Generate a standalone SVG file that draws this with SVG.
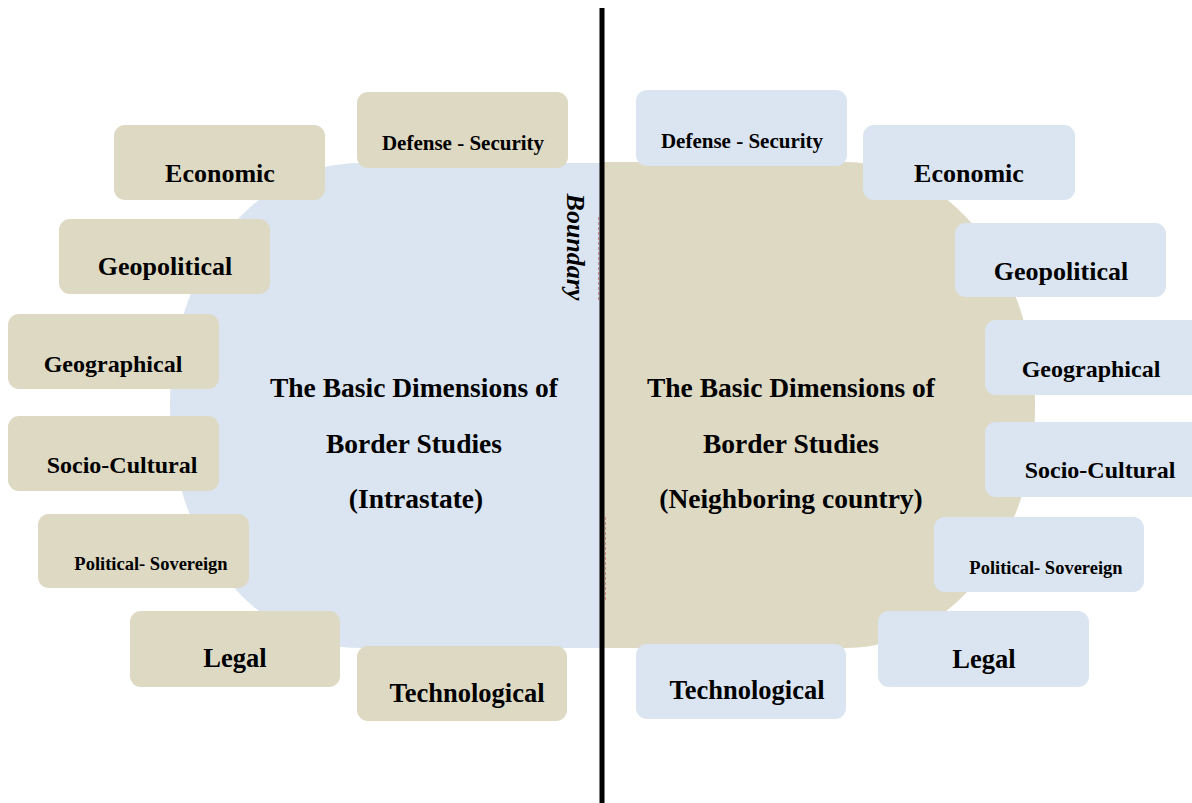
<svg xmlns="http://www.w3.org/2000/svg" width="1192" height="803" viewBox="0 0 1192 803">
<style>
.tan{fill:#DDD9C3}
.blue{fill:#DBE5F1}
text{font-family:"Liberation Serif","Times New Roman",serif;font-weight:bold;fill:#000;text-anchor:middle}
.big{font-size:26px}
.mid{font-size:24px}
.bot{font-size:26.5px}
.sm{font-size:21px}
.xs{font-size:18.5px}
.title{font-size:27.5px}
</style>
<rect x="0" y="0" width="1192" height="803" fill="#FFFFFF"/>
<g id="left-core">
<path class="blue" d="M600 163 L360 163 A190 240 0 0 0 170 403 L170 408 A190 240 0 0 0 360 648 L600 648 Z"/>
<text class="title" x="414" y="397">The Basic Dimensions of</text>
<text class="title" x="414" y="453">Border Studies</text>
<text class="title" x="416" y="508">(Intrastate)</text>
</g>
<g id="right-core">
<path class="tan" d="M602 162 L845 162 A190 240 0 0 1 1035 402 L1035 408 A190 240 0 0 1 845 648 L602 648 Z"/>
<text class="title" x="791" y="397">The Basic Dimensions of</text>
<text class="title" x="791" y="453">Border Studies</text>
<text class="title" x="791" y="508">(Neighboring country)</text>
</g>
<g id="l-defense"><rect class="tan" x="357" y="92" width="211" height="76" rx="11"/><text class="sm" x="463" y="150">Defense - Security</text></g>
<g id="l-economic"><rect class="tan" x="114" y="125" width="211" height="75" rx="11"/><text class="big" x="220" y="182">Economic</text></g>
<g id="l-geopolitical"><rect class="tan" x="59" y="219" width="211" height="75" rx="11"/><text class="big" x="165" y="275">Geopolitical</text></g>
<g id="l-geographical"><rect class="tan" x="8" y="314" width="211" height="75" rx="11"/><text class="mid" x="113" y="372">Geographical</text></g>
<g id="l-socio"><rect class="tan" x="8" y="416" width="211" height="75" rx="11"/><text class="mid" x="122" y="473">Socio-Cultural</text></g>
<g id="l-political"><rect class="tan" x="38" y="514" width="211" height="74" rx="11"/><text class="xs" x="151" y="570">Political- Sovereign</text></g>
<g id="l-legal"><rect class="tan" x="130" y="611" width="210" height="76" rx="11"/><text class="bot" x="235" y="667">Legal</text></g>
<g id="l-tech"><rect class="tan" x="357" y="646" width="210" height="75" rx="11"/><text class="bot" x="467" y="702">Technological</text></g>
<g id="r-defense"><rect class="blue" x="636" y="90" width="211" height="76" rx="11"/><text class="sm" x="742" y="148">Defense - Security</text></g>
<g id="r-economic"><rect class="blue" x="863" y="125" width="212" height="75" rx="11"/><text class="big" x="969" y="182">Economic</text></g>
<g id="r-geopolitical"><rect class="blue" x="955" y="223" width="211" height="74" rx="11"/><text class="big" x="1061" y="280">Geopolitical</text></g>
<g id="r-geographical"><rect class="blue" x="985" y="320" width="220" height="75" rx="11"/><text class="mid" x="1091" y="377">Geographical</text></g>
<g id="r-socio"><rect class="blue" x="985" y="422" width="220" height="75" rx="11"/><text class="mid" x="1100" y="478">Socio-Cultural</text></g>
<g id="r-political"><rect class="blue" x="934" y="517" width="210" height="75" rx="11"/><text class="xs" x="1046" y="574">Political- Sovereign</text></g>
<g id="r-legal"><rect class="blue" x="878" y="611" width="211" height="76" rx="11"/><text class="bot" x="984" y="668">Legal</text></g>
<g id="r-tech"><rect class="blue" x="636" y="644" width="210" height="75" rx="11"/><text class="bot" x="747" y="699">Technological</text></g>
<g id="connectors">
<line x1="598.5" y1="217" x2="598.5" y2="300" stroke="#C0504D" stroke-width="1" stroke-dasharray="3 2" opacity="0.6"/>
<line x1="605.5" y1="517" x2="605.5" y2="600" stroke="#C0504D" stroke-width="1" stroke-dasharray="3 2" opacity="0.5"/>
<line x1="602" y1="8" x2="602" y2="803" stroke="#000" stroke-width="5"/>
</g>
<g id="boundary-label">
<text x="0" y="0" transform="translate(567,247) rotate(90)" style="font-size:26px;font-style:italic">Boundary</text>
</g>
</svg>
